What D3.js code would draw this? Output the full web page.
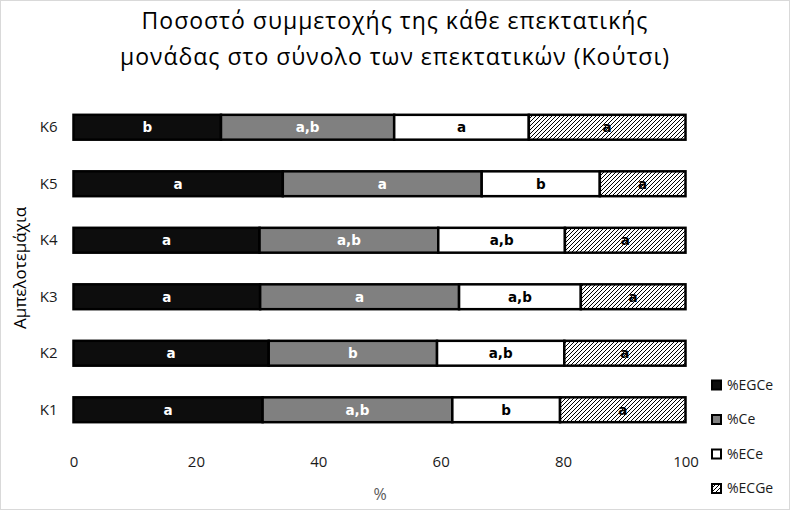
<!DOCTYPE html>
<html><head><meta charset="utf-8">
<script src="https://cdn.jsdelivr.net/npm/d3@7"></script>
<style>
body{margin:0;background:#fff;}
svg{display:block;font-family:"Open Sans","Noto Sans",sans-serif;}
</style></head>
<body>
<svg id="chart" width="790" height="510"></svg>
<script>
const categories = ["K1","K2","K3","K4","K5","K6"];
const seriesNames = ["%EGCe","%Ce","%ECe","%ECGe"];
const valEGCe = [30.9, 31.9, 30.5, 30.4, 34.2, 24.1];
const valCe   = [31.0, 27.5, 32.5, 29.2, 32.5, 28.3];
const valECe  = [17.6, 20.8, 19.9, 20.7, 19.3, 22.0];
const valECGe = [20.5, 19.8, 17.1, 19.7, 14.0, 25.6];
const lblEGCe = ["a","a","a","a","a","b"];
const lblCe   = ["a,b","b","a","a,b","a","a,b"];
const lblECe  = ["b","a,b","a,b","a,b","b","a"];
const lblECGe = ["a","a","a","a","a","a"];
const xTicks = [0,20,40,60,80,100];
const titleLines = ["Ποσοστό συμμετοχής της κάθε επεκτατικής","μονάδας στο σύνολο των επεκτατικών (Κούτσι)"];
const xTitle = "%";
const yTitle = "Αμπελοτεμάχια";

const svg = d3.select("#chart");
const W = 790, H = 510;
const m = {left:73.5, right:104.5, top:99, bottom:72};

svg.append("rect").attr("x",0.5).attr("y",0.5).attr("width",W-1).attr("height",H-1)
  .attr("fill","#fff").attr("stroke","#d9d9d9");

const defs = svg.append("defs");
const pat = defs.append("pattern").attr("id","hatch").attr("patternUnits","userSpaceOnUse")
  .attr("width",4).attr("height",4);
pat.append("rect").attr("width",4).attr("height",4).attr("fill","#fff");
pat.append("path").attr("d","M-1,1 l2,-2 M0,4 l4,-4 M3,5 l2,-2")
  .attr("stroke","#000").attr("stroke-width",1);

const fills = ["#0d0d0d","#808080","#ffffff","url(#hatch)"];
const textColors = ["#fff","#fff","#000","#000"];
const vals = [valEGCe, valCe, valECe, valECGe];
const lbls = [lblEGCe, lblCe, lblECe, lblECGe];

const x = d3.scaleLinear().domain([0,100]).range([m.left, W-m.right]);
const y = d3.scaleBand().domain(categories.slice().reverse()).range([m.top, H-m.bottom]).paddingInner(0.56).paddingOuter(0.28);

// title
const t = svg.append("text").attr("x",395).attr("text-anchor","middle")
  .attr("font-size",23).attr("letter-spacing",1).attr("fill","#000");
titleLines.forEach((l,i)=>t.append("tspan").attr("x",395).attr("y",29+i*36).text(l));

// x axis
const xa = svg.append("g").attr("transform",`translate(0,${H-m.bottom})`)
  .call(d3.axisBottom(x).tickValues(xTicks).tickSize(0).tickPadding(18));
xa.select(".domain").remove();
xa.selectAll("text").attr("font-size",15).attr("fill","#1a1a1a").attr("font-family","'Open Sans',sans-serif");

// y axis
const ya = svg.append("g").attr("transform",`translate(${m.left},0)`)
  .call(d3.axisLeft(y).tickSize(0).tickPadding(16));
ya.select(".domain").remove();
ya.selectAll("text").attr("font-size",15).attr("fill","#1a1a1a").attr("font-family","'Open Sans',sans-serif");

svg.append("text").attr("x",380).attr("y",500).attr("text-anchor","middle")
  .attr("font-size",16).attr("fill","#595959").text(xTitle);
svg.append("text").attr("transform","translate(26,268) rotate(-90)").attr("text-anchor","middle")
  .attr("font-size",17).attr("fill","#000").text(yTitle);

// bars
const rows = svg.append("g");
categories.forEach((c,ci)=>{
  let acc = 0;
  vals.forEach((s,si)=>{
    const v = s[ci];
    const x0 = x(acc), x1 = x(acc+v);
    rows.append("rect").attr("x",x0).attr("y",y(c)).attr("width",x1-x0).attr("height",y.bandwidth())
      .attr("fill",fills[si]).attr("stroke","#000").attr("stroke-width",2.5);
    rows.append("text").attr("x",(x0+x1)/2).attr("y",y(c)+y.bandwidth()/2).attr("dy","0.36em")
      .attr("text-anchor","middle").attr("font-size",13.5).attr("font-weight","bold")
      .attr("font-family","'DejaVu Sans',sans-serif")
      .attr("fill",textColors[si]).text(lbls[si][ci]);
    acc += v;
  });
});

// legend
const lg = svg.append("g");
seriesNames.forEach((n,i)=>{
  const yy = 385 + i*34.5;
  lg.append("rect").attr("x",712).attr("y",yy-4.5).attr("width",9).attr("height",9)
    .attr("fill",fills[i]).attr("stroke","#000").attr("stroke-width",2);
  lg.append("text").attr("x",727).attr("y",yy).attr("dy","0.35em").attr("font-size",14)
    .attr("fill","#1a1a1a").text(n);
});
</script>
</body></html>
